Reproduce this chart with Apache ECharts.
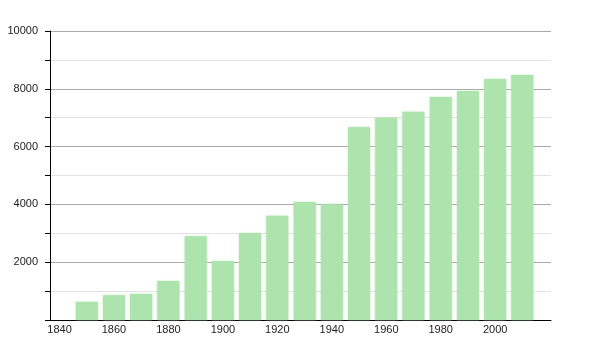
<!DOCTYPE html>
<html>
<head>
<meta charset="utf-8">
<script src="https://cdn.jsdelivr.net/npm/echarts@6/dist/echarts.min.js"></script>
<style>
  html, body { margin: 0; padding: 0; background: #fff; }
  #chart { width: 600px; height: 350px; }
</style>
</head>
<body>
<div id="chart"></div>
<script>
// census years and population
const years = [1850, 1860, 1870, 1880, 1890, 1900, 1910, 1920, 1930, 1940, 1950, 1960, 1970, 1980, 1990, 2000, 2010];
const population = [630, 855, 900, 1350, 2900, 2040, 3000, 3610, 4080, 4000, 6670, 7000, 7210, 7720, 7920, 8340, 8480];
const xTickLabels = [1840, 1860, 1880, 1900, 1920, 1940, 1960, 1980, 2000];

const BAR_COLOR = "#ade3ad";

const chart = echarts.init(document.getElementById("chart"));

const option = {
    animation: false,
    grid: { left: 50, right: 49, top: 31, bottom: 30 },
    xAxis: {
        type: "value",
        min: 1836.5,
        max: 2020.5,
        axisLine: { show: true, lineStyle: { color: "#000", width: 1 } },
        axisTick: { show: false },
        splitLine: { show: false },
        axisLabel: {
            customValues: xTickLabels,
            showMinLabel: true,
            showMaxLabel: true,
            hideOverlap: false,
            margin: 4,
            color: "#222",
            fontSize: 11,
            fontFamily: "Liberation Sans, Arial, sans-serif",
            formatter: v => String(v)
        }
    },
    yAxis: {
        type: "value",
        min: 0,
        max: 10000,
        interval: 2000,
        axisLine: { show: true, lineStyle: { color: "#000", width: 1 } },
        axisTick: { show: true, length: 5, lineStyle: { color: "#000" } },
        minorTick: { show: true, splitNumber: 2, length: 5, lineStyle: { color: "#000" } },
        splitLine: { show: true, lineStyle: { color: "#aaa", width: 1 } },
        minorSplitLine: { show: true, lineStyle: { color: "#e2e2e2", width: 1 } },
        axisLabel: {
            margin: 12,
            color: "#222",
            fontSize: 11,
            fontFamily: "Liberation Sans, Arial, sans-serif",
            formatter: v => v === 0 ? "" : String(v)
        }
    },
    series: [{
        type: "bar",
        data: years.map((y, i) => [y, population[i]]),
        barWidth: 22,
        itemStyle: {
            color: BAR_COLOR,
            shadowColor: "rgba(173,227,173,0.8)",
            shadowBlur: 2
        }
    }]
};

chart.setOption(option);
</script>
</body>
</html>
